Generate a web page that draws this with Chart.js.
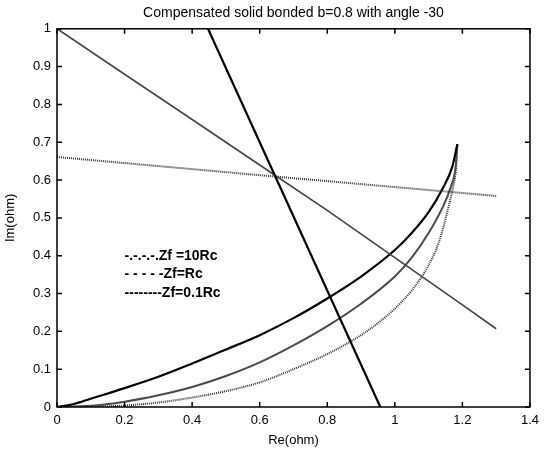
<!DOCTYPE html>
<html>
<head>
<meta charset="utf-8">
<script src="https://cdn.jsdelivr.net/npm/chart.js@4.4.1/dist/chart.umd.min.js"></script>
<style>
  html, body { margin: 0; padding: 0; background: #fff; }
</style>
</head>
<body>
<canvas id="chart" width="545" height="449"></canvas>
<script>
const chartTitle = 'Compensated solid bonded b=0.8 with angle -30';
const xLabel = 'Re(ohm)';
const yLabel = 'Im(ohm)';
const xTicks = [0, 0.2, 0.4, 0.6, 0.8, 1, 1.2, 1.4];
const yTicks = [0, 0.1, 0.2, 0.3, 0.4, 0.5, 0.6, 0.7, 0.8, 0.9, 1];

// hand-placed annotation text (as in the original figure)
const noteLines = ['-.-.-.-.Zf =10Rc', '- - - - -Zf=Rc', '--------Zf=0.1Rc'];
const noteX = 0.2;
const noteY = [0.4, 0.35, 0.3];

// steep straight line
const steepX = [0.447, 0.957];
const steepY = [1, 0];

// descending gray line
const fallX = [0, 0.2, 0.4, 0.6, 0.8, 1.0, 1.2, 1.3];
const fallY = [1, 0.88, 0.76, 0.64, 0.52, 0.395, 0.27, 0.207];

// flat dotted line
const flatX = [0, 0.65, 1.3];
const flatY = [0.661, 0.609, 0.558];

// Zf = 10Rc (black curve)
const zf10X = [0, 0.05, 0.1, 0.2, 0.3, 0.4, 0.5, 0.6, 0.7, 0.8, 0.9, 1.0, 1.05, 1.1, 1.14, 1.17, 1.185];
const zf10Y = [0, 0.008, 0.022, 0.05, 0.08, 0.115, 0.152, 0.19, 0.235, 0.287, 0.345, 0.415, 0.46, 0.515, 0.575, 0.635, 0.695];

// Zf = Rc (gray curve)
const zf1X = [0, 0.1, 0.2, 0.3, 0.4, 0.5, 0.6, 0.7, 0.8, 0.9, 1.0, 1.05, 1.1, 1.14, 1.165, 1.18, 1.185];
const zf1Y = [0, 0.003, 0.014, 0.031, 0.053, 0.082, 0.118, 0.163, 0.214, 0.273, 0.345, 0.395, 0.46, 0.525, 0.58, 0.635, 0.695];

// Zf = 0.1Rc (dotted curve)
const zf01X = [0, 0.1, 0.2, 0.3, 0.4, 0.5, 0.6, 0.7, 0.8, 0.9, 0.95, 1.0, 1.05, 1.1, 1.13, 1.155, 1.172, 1.182, 1.185];
const zf01Y = [0, 0.001, 0.004, 0.012, 0.025, 0.042, 0.065, 0.1, 0.14, 0.19, 0.222, 0.26, 0.308, 0.375, 0.435, 0.515, 0.58, 0.64, 0.695];

const pts = (xs, ys) => xs.map((x, i) => ({ x: x, y: ys[i] }));
const FONT = 'Liberation Sans, Arial, sans-serif';

const frame = {
  id: 'frame',
  afterDatasetsDraw(chart) {
    const { ctx, chartArea: a, scales: { x, y } } = chart;
    ctx.save();
    ctx.strokeStyle = '#000';
    ctx.lineWidth = 1.5;
    ctx.strokeRect(a.left, a.top, a.right - a.left, a.bottom - a.top);
    ctx.beginPath();
    xTicks.forEach(v => {
      const px = x.getPixelForValue(v);
      ctx.moveTo(px, a.bottom); ctx.lineTo(px, a.bottom - 5);
      ctx.moveTo(px, a.top); ctx.lineTo(px, a.top + 5);
    });
    yTicks.forEach(v => {
      const py = y.getPixelForValue(v);
      ctx.moveTo(a.left, py); ctx.lineTo(a.left + 5, py);
      ctx.moveTo(a.right, py); ctx.lineTo(a.right - 5, py);
    });
    ctx.stroke();

    ctx.fillStyle = '#000';
    ctx.font = 'bold 14px ' + FONT;
    ctx.textAlign = 'left';
    ctx.textBaseline = 'middle';
    noteLines.forEach((t, i) => {
      ctx.fillText(t, x.getPixelForValue(noteX), y.getPixelForValue(noteY[i]));
    });
    ctx.restore();
  }
};

new Chart(document.getElementById('chart'), {
  type: 'scatter',
  data: {
    datasets: [
      { data: pts(steepX, steepY), borderColor: '#000', borderWidth: 2.2 },
      { data: pts(fallX, fallY), borderColor: '#474747', borderWidth: 1.7 },
      { data: pts(flatX, flatY), borderColor: '#333', borderWidth: 2, borderDash: [1, 1] },
      { data: pts(zf10X, zf10Y), borderColor: '#000', borderWidth: 2.2, cubicInterpolationMode: 'monotone' },
      { data: pts(zf1X, zf1Y), borderColor: '#4a4a4a', borderWidth: 2, cubicInterpolationMode: 'monotone' },
      { data: pts(zf01X, zf01Y), borderColor: '#333', borderWidth: 2, borderDash: [1, 1], cubicInterpolationMode: 'monotone' }
    ].map(d => Object.assign({ showLine: true, pointRadius: 0, fill: false }, d))
  },
  options: {
    responsive: false,
    animation: false,
    devicePixelRatio: 1,
    layout: { padding: { top: 0, right: 12, bottom: 0, left: 0 } },
    plugins: {
      legend: { display: false },
      tooltip: { enabled: false },
      title: {
        display: true,
        fullSize: false,
        text: chartTitle,
        color: '#000',
        font: { family: FONT, size: 14, weight: 'normal' },
        padding: { top: 5, bottom: 7 }
      }
    },
    scales: {
      x: {
        type: 'linear',
        min: 0, max: 1.4,
        afterBuildTicks: s => { s.ticks = xTicks.map(v => ({ value: v })); },
        afterFit: s => { s.height = 42; },
        grid: { display: false, drawTicks: false },
        border: { display: false },
        ticks: {
          color: '#000', padding: 6, maxRotation: 0,
          font: { family: FONT, size: 13 },
          callback: v => String(Math.round(v * 10) / 10)
        },
        title: {
          display: true, text: xLabel, color: '#000',
          font: { family: FONT, size: 13 },
          padding: { top: 0, bottom: 1 }
        }
      },
      y: {
        type: 'linear',
        min: 0, max: 1,
        afterBuildTicks: s => { s.ticks = yTicks.map(v => ({ value: v })); },
        afterFit: s => { s.width = 57; },
        grid: { display: false, drawTicks: false },
        border: { display: false },
        ticks: {
          color: '#000', padding: 6,
          font: { family: FONT, size: 13 },
          callback: v => String(Math.round(v * 10) / 10)
        },
        title: {
          display: true, text: yLabel, color: '#000',
          font: { family: FONT, size: 13 },
          padding: { top: 3, bottom: 0 }
        }
      }
    }
  },
  plugins: [frame]
});
</script>
</body>
</html>
